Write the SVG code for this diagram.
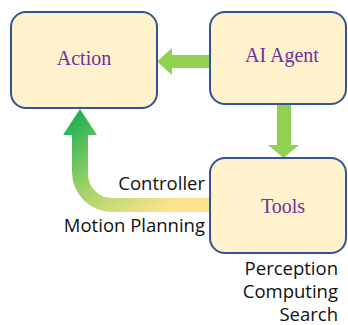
<svg xmlns="http://www.w3.org/2000/svg" width="348" height="325" viewBox="0 0 348 325">
<style>
.box{fill:#FFF2CC;stroke:#2F5597;stroke-width:2}
.lbl{font-family:"Liberation Serif",serif;font-size:20px;fill:#7030A0;text-anchor:middle}
.t{font-family:"Open Sans","Liberation Sans",sans-serif;font-size:18.5px;fill:#111;text-anchor:end}
.g{fill:#92D050}
</style>
<defs>
<linearGradient id="cg" gradientUnits="userSpaceOnUse" x1="78" y1="112" x2="165" y2="212">
<stop offset="0" stop-color="#1DB152"/>
<stop offset="0.5" stop-color="#A9D46A"/>
<stop offset="1" stop-color="#FFE38C"/>
</linearGradient>
</defs>
<rect width="348" height="325" fill="#fff"/>
<g id="connectors">
<path class="g" d="M210,55 L172,55 L172,48 L157,61.5 L172,75 L172,68 L210,68 Z"/>
<path class="g" d="M277,104 L277,145 L268,145 L283.5,158 L299,145 L291,145 L291,104 Z"/>
<path fill="url(#cg)" d="M210,198 L112,198 A24,24 0 0 1 88,174 L88,135 L97,135 L80,109 L63,135 L72,135 L72,172 A40,40 0 0 0 112,212 L210,212 Z"/>
</g>
<g id="action">
<rect class="box" x="11" y="12" width="146" height="96" rx="15"/>
<text class="lbl" x="84" y="65">Action</text>
</g>
<g id="ai-agent">
<rect class="box" x="210" y="12" width="136" height="92" rx="15"/>
<text class="lbl" x="282" y="62">AI Agent</text>
</g>
<g id="tools">
<rect class="box" x="210" y="158" width="136" height="95" rx="15"/>
<text class="lbl" x="283" y="213">Tools</text>
</g>
<g id="labels">
<text class="t" x="205" y="190">Controller</text>
<text class="t" x="205" y="232">Motion Planning</text>
<text class="t" x="338" y="275">Perception</text>
<text class="t" x="338" y="298">Computing</text>
<text class="t" x="338" y="321">Search</text>
</g>
</svg>
